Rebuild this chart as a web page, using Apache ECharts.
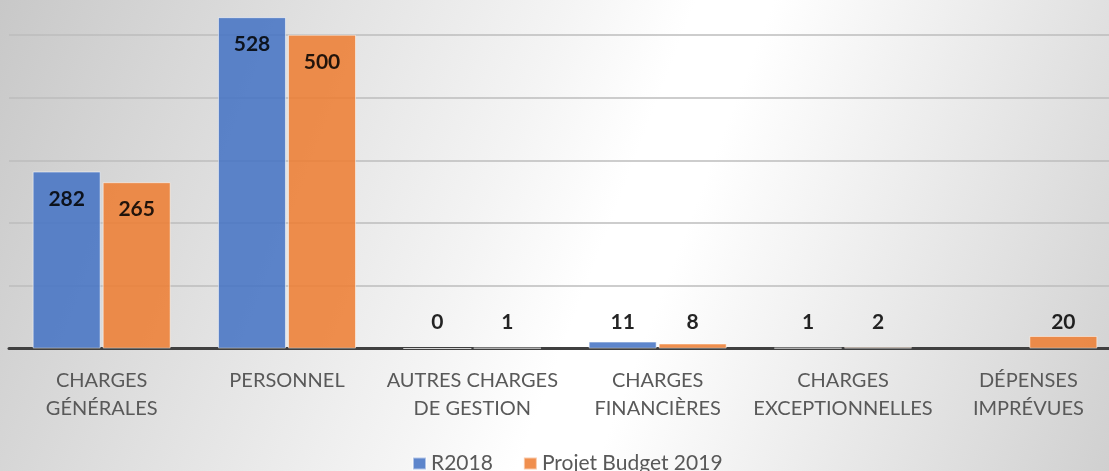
<!DOCTYPE html>
<html>
<head>
<meta charset="utf-8">
<script src="https://cdn.jsdelivr.net/npm/echarts@6/dist/echarts.min.js"></script>
<style>
  html, body { margin: 0; padding: 0; }
  #wrap {
    width: 1109px;
    height: 471px;
    overflow: hidden;
    position: relative;
    background: linear-gradient(111deg, #c8c8c8 0%, #f4f4f4 44%, #ffffff 54%, #ffffff 60%, #d0d0d0 100%);
  }
  /* le graphique d'origine est coupé en haut et à droite : on décale le canevas */
  #chart {
    position: absolute;
    left: 0;
    top: -28px;
    width: 1122px;
    height: 499px;
  }
</style>
</head>
<body>
<div id="wrap"><div id="chart"></div></div>
<script>
// catégories et valeurs
var categories = ["CHARGES\nGÉNÉRALES", "PERSONNEL", "AUTRES CHARGES\nDE GESTION", "CHARGES\nFINANCIÈRES", "CHARGES\nEXCEPTIONNELLES", "DÉPENSES\nIMPRÉVUES"];
var seriesNames = ["R2018", "Projet Budget 2019"];
var r2018 = [282, 528, 0, 11, 1, null];
var budget2019 = [265, 500, 1, 8, 2, 20];

// étiquette dans la barre si elle est haute, sinon au-dessus de l'axe
function toData(values) {
  return values.map(function (v) {
    if (v === null) return { value: null, label: { show: false } };
    var big = v > 100;
    return {
      value: v,
      label: big
        ? { position: "insideTop", distance: 17 }
        : { position: "insideBottom", distance: 16 }
    };
  });
}

function makeSeries(name, values, color) {
  return {
    name: name,
    type: "bar",
    data: toData(values),
    barWidth: 68,
    barGap: "3%",
    itemStyle: {
      color: color,
      opacity: 0.86,
      borderColor: "rgba(255,255,255,0.6)",
      borderWidth: 1
    },
    label: {
      show: true,
      color: "#000",
      fontFamily: "Lato",
      fontWeight: "bold",
      fontSize: 21,
      // formatter pour garder le 0
      formatter: function (p) { return String(p.value); }
    },
    emphasis: { disabled: true }
  };
}

var myChart = echarts.init(document.getElementById("chart"));
var option = {
  backgroundColor: "transparent",
  animation: false,
  grid: {
    left: 9,
    right: 1,
    top: 0,
    bottom: 122.5,
    containLabel: false
  },
  legend: {
    data: seriesNames,
    left: 407,
    top: 476,
    icon: "rect",
    itemWidth: 13,
    itemHeight: 12,
    itemGap: 30,
    textStyle: {
      color: "#595959",
      fontFamily: "Lato",
      fontSize: 21
    }
  },
  xAxis: {
    type: "category",
    data: categories,
    axisLine: { lineStyle: { color: "#404040", width: 3 } },
    axisTick: { show: false },
    axisLabel: {
      color: "#595959",
      fontFamily: "Lato",
      fontSize: 20,
      lineHeight: 28,
      margin: 18,
      interval: 0
    }
  },
  yAxis: {
    type: "value",
    min: 0,
    max: 600,
    interval: 100,
    axisLabel: { show: false },
    axisLine: { show: false },
    axisTick: { show: false },
    splitLine: { lineStyle: { color: "#bdbdbd", width: 1.5 } }
  },
  series: [
    makeSeries(seriesNames[0], r2018, "#4472c4"),
    makeSeries(seriesNames[1], budget2019, "#ed7d31")
  ]
};
myChart.setOption(option);
window.addEventListener("resize", function () { myChart.resize(); });
</script>
</body>
</html>
